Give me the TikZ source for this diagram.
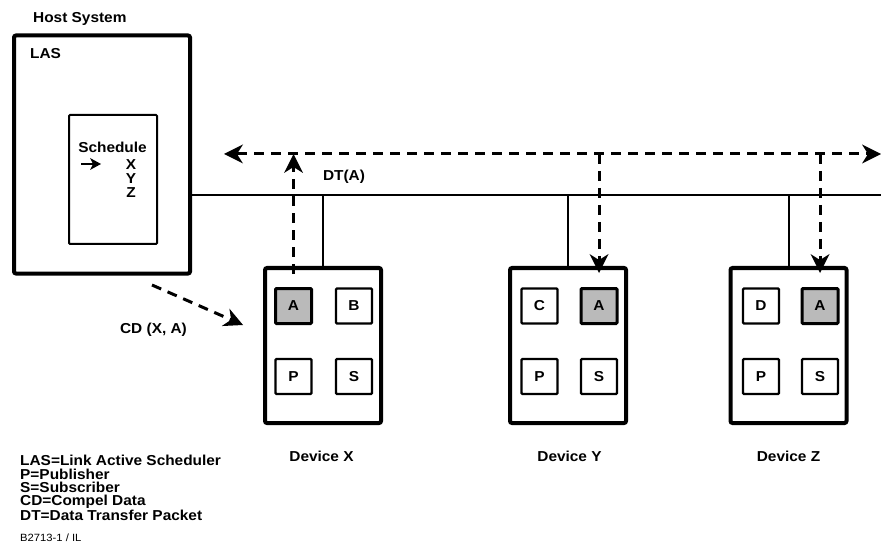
\documentclass[tikz,border=0pt]{standalone}
\usepackage{fontspec}
\setmainfont[FakeStretch=1.07]{Liberation Sans}
\usetikzlibrary{arrows.meta, positioning}

\begin{document}
\begin{tikzpicture}[x=1pt, y=-1pt,
    font=\bfseries\fontsize{14.4}{14}\selectfont,
    hostbox/.style={draw, line width=4pt, rounded corners=2pt, minimum width=176pt, minimum height=238pt, inner sep=0},
    schedbox/.style={draw, line width=2pt, rounded corners=1pt, minimum width=88pt, minimum height=129pt, inner sep=0},
    device/.style={draw, line width=4pt, rounded corners=2pt, minimum width=116pt, minimum height=155pt, inner sep=0},
    cell/.style={draw, line width=2.2pt, rounded corners=1pt, minimum width=36pt, minimum height=35pt, inner sep=0},
    pubcell/.style={cell, fill=black!27, line width=3pt},
    bus/.style={line width=2pt},
    darrow/.style={line width=3pt, dash pattern=on 10pt off 7pt, -{Stealth[length=19pt, width=19pt, inset=6pt, line width=0pt]}},
    sarrow/.style={line width=2.5pt, -{Stealth[length=11pt, width=12pt, inset=3pt, line width=0pt]}},
    txt/.style={inner sep=0},
]
\useasboundingbox (0,0) rectangle (881,556);

% Host system
\node[hostbox] (host) at (102,154.5) {};
\node[schedbox] (sched) at (113,179.5) {};
\node[txt, anchor=west] (hostlbl) at (33,19) {Host System};
\node[txt, anchor=west] (laslbl) at (30,54) {LAS};
\node[txt] (schedlbl) at (112.5,147) {Schedule};
\node[txt, align=center] (xyz) at (131,178.5) {X\\Y\\Z};
\coordinate (ptr1) at (81,164);
\coordinate (ptr2) at (101,164);
\draw[sarrow] (ptr1) -- (ptr2);

% Devices
\node[device] (devx) at (323,345.5) {};
\node[device] (devy) at (568,345.5) {};
\node[device] (devz) at (788.5,345.5) {};

\node[pubcell] (xa) at (293.5,306) {A};
\node[cell] (xb) at (354,306) {B};
\node[cell] (xp) at (293.5,376.5) {P};
\node[cell] (xs) at (354,376.5) {S};

\node[cell] (yc) at (539.5,306) {C};
\node[pubcell] (ya) at (599,306) {A};
\node[cell] (yp) at (539.5,376.5) {P};
\node[cell] (ys) at (599,376.5) {S};

\node[cell] (zd) at (761,306) {D};
\node[pubcell] (za) at (820,306) {A};
\node[cell] (zp) at (761,376.5) {P};
\node[cell] (zs) at (820,376.5) {S};

\node[txt] (xlbl) at (321.5,456) {Device X};
\node[txt] (ylbl) at (569.5,456) {Device Y};
\node[txt] (zlbl) at (788.5,456) {Device Z};

% Bus
\coordinate (busend) at (881,195);
\draw[bus] (host.east |- busend) -- (busend);
\draw[bus] (devx.north |- busend) -- (devx.north);
\draw[bus] (devy.north |- busend) -- (devy.north);
\draw[bus] (devz.north |- busend) -- (devz.north);

% Data transfer (dashed)
\coordinate (bl) at (224,154);
\coordinate (br) at (881,154);
\draw[darrow, {Stealth[length=19pt, width=19pt, inset=6pt, line width=0pt]}-{Stealth[length=19pt, width=19pt, inset=6pt, line width=0pt]}] (bl) -- (br);
\draw[darrow, shorten <=-8pt] (devx.north -| xa.north) -- (xa.north |- bl);
\draw[darrow, shorten >=-7pt] (ya.north |- bl) -- (devy.north -| ya.north);
\draw[darrow, shorten >=-7pt] (za.north |- bl) -- (devz.north -| za.north);
\node[txt] (dtlbl) at (344,177) {DT(A)};

% Compel data
\coordinate (cd1) at (152,285);
\coordinate (cd2) at (243,325);
\draw[darrow] (cd1) -- (cd2);
\node[txt] (cdlbl) at (153.5,330) {CD (X, A)};

% Legend
\node[txt, anchor=north west, align=left, font=\bfseries\fontsize{14.4}{13.4}\selectfont] (legend) at (20,455) {LAS=Link Active Scheduler\\P=Publisher\\S=Subscriber\\CD=Compel Data\\DT=Data Transfer Packet};
\node[txt, anchor=west, font=\fontsize{10.5}{12}\selectfont] (ref) at (20,538) {B2713-1 / IL};
\end{tikzpicture}
\end{document}
